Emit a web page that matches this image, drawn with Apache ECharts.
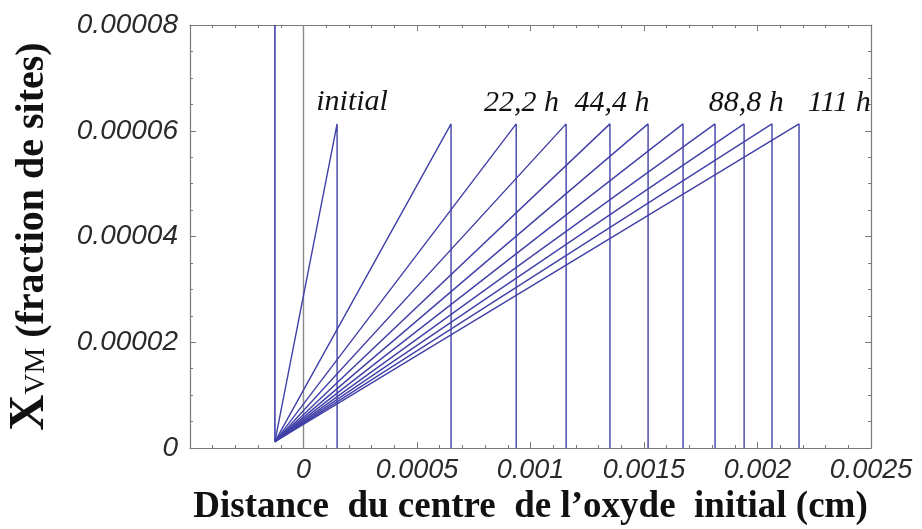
<!DOCTYPE html>
<html>
<head>
<meta charset="utf-8">
<script src="https://cdn.jsdelivr.net/npm/echarts@6/dist/echarts.min.js"></script>
<style>
html,body{margin:0;padding:0;background:#fff;}
#chart{width:922px;height:529px;}
</style>
</head>
<body>
<div id="chart"></div>
<script>
// ---- data ----
var curveNames = ['initial', '11,1 h', '22,2 h', '33,3 h', '44,4 h', '55,5 h', '66,6 h', '77,7 h', '88,8 h', '99,9 h', '111 h'];
var frontX = [0.000148, 0.000650, 0.000937, 0.001157, 0.001350, 0.001518, 0.001672, 0.001813, 0.001941, 0.002064, 0.002183];
var startX = -0.000126;
var startY = 0.0000012;
var peakY = 0.0000613;
var wallTopY = 0.00008;
var xTicks = [-0.0005, 0, 0.0005, 0.001, 0.0015, 0.002, 0.0025];
var xTickLabels = ['', '0', '0.0005', '0.001', '0.0015', '0.002', '0.0025'];
var yTicks = [0, 0.00002, 0.00004, 0.00006, 0.00008];
var yTickLabels = ['0', '0.00002', '0.00004', '0.00006', '0.00008'];
var annoText = ['initial', '22,2 h', '44,4 h', '88,8 h', '111 h'];
var annoX = [0.000214, 0.000960, 0.001359, 0.001950, 0.002360];
var annoY = [0.0000655, 0.0000652, 0.0000652, 0.0000652, 0.0000652];

var lineColor = '#4040a8';
var frameColor = '#7a7a7a';

function labelFor(ticks, labels) {
  return function (v) {
    for (var i = 0; i < ticks.length; i++) {
      if (Math.abs(v - ticks[i]) < 1e-12) return labels[i];
    }
    return '';
  };
}

var series = [];
for (var i = 0; i < frontX.length; i++) {
  series.push({
    name: curveNames[i],
    type: 'line',
    data: [[startX, startY], [frontX[i], peakY], [frontX[i], 0]],
    showSymbol: false,
    symbol: 'none',
    lineStyle: { color: lineColor, width: 1.4 },
    clip: true,
    silent: true,
    z: 3
  });
}
// vertical wall at the start position
series.push({
  name: 'wall',
  type: 'line',
  data: [[startX, wallTopY], [startX, startY]],
  symbol: 'none',
  lineStyle: { color: lineColor, width: 1.6 },
  clip: true,
  z: 3
});
// grey reference line at x = 0
series.push({
  name: 'zero',
  type: 'line',
  data: [[0, 0], [0, wallTopY]],
  symbol: 'none',
  lineStyle: { color: '#8a8a8a', width: 1.4 },
  clip: true,
  z: 2
});
// annotations (clipped by the plot area)
series.push({
  name: 'labels',
  type: 'custom',
  clip: true,
  data: annoText.map(function (t, k) { return [annoX[k], annoY[k], k]; }),
  renderItem: function (params, api) {
    var p = api.coord([api.value(0), api.value(1)]);
    return {
      type: 'text',
      x: p[0], y: p[1],
      style: {
        text: annoText[api.value(2)],
        font: 'italic 30px "Liberation Serif"',
        fill: '#111',
        align: 'center',
        verticalAlign: 'middle'
      }
    };
  },
  z: 4
});

var axisCommonX = {
  type: 'value', min: -0.0005, max: 0.0025, interval: 0.0005,
  axisLine: { show: true, onZero: false, lineStyle: { color: frameColor, width: 1.2 } },
  axisTick: { show: true, inside: true, length: 6, lineStyle: { color: frameColor } },
  minorTick: { show: true, splitNumber: 5, length: 3, lineStyle: { color: frameColor } },
  splitLine: { show: false }
};
var axisCommonY = {
  type: 'value', min: 0, max: 0.00008, interval: 0.00002,
  axisLine: { show: true, onZero: false, lineStyle: { color: frameColor, width: 1.2 } },
  axisTick: { show: true, inside: true, length: 6, lineStyle: { color: frameColor } },
  minorTick: { show: true, splitNumber: 4, length: 3, lineStyle: { color: frameColor } },
  splitLine: { show: false }
};

var option = {
  backgroundColor: '#ffffff',
  animation: false,
  grid: { left: 190, right: 51, top: 25, bottom: 81, containLabel: false, outerBoundsMode: 'none' },
  xAxis: [
    Object.assign({}, axisCommonX, {
      position: 'bottom',
      name: 'Distance  du centre  de l\u2019oxyde  initial (cm)',
      nameLocation: 'middle',
      nameGap: 37,
      nameTextStyle: { fontFamily: 'Liberation Serif', fontWeight: 'bold', fontSize: 37, color: '#111' },
      axisLabel: {
        show: true, margin: 9, color: '#2a2a2a',
        fontFamily: 'Liberation Sans', fontStyle: 'italic', fontSize: 27,
        formatter: labelFor(xTicks, xTickLabels)
      }
    }),
    Object.assign({}, axisCommonX, { position: 'top', axisLabel: { show: false } })
  ],
  yAxis: [
    Object.assign({}, axisCommonY, {
      position: 'left',
      name: '{x|X}{v|VM}{t| (fraction de sites)}',
      nameLocation: 'middle',
      nameRotate: 90,
      nameGap: 135,
      nameTextStyle: {
        color: '#111',
        rich: {
          x: { fontFamily: 'Liberation Serif', fontWeight: 'bold', fontSize: 50, color: '#111', verticalAlign: 'bottom' },
          v: { fontFamily: 'Liberation Serif', fontSize: 29, color: '#111', verticalAlign: 'bottom', padding: [0, 0, 4, 0] },
          t: { fontFamily: 'Liberation Serif', fontWeight: 'bold', fontSize: 40, color: '#111', verticalAlign: 'bottom', padding: [0, 0, 2, 0] }
        }
      },
      axisLabel: {
        show: true, margin: 12, color: '#2a2a2a',
        fontFamily: 'Liberation Sans', fontStyle: 'italic', fontSize: 28,
        formatter: labelFor(yTicks, yTickLabels)
      }
    }),
    Object.assign({}, axisCommonY, { position: 'right', axisLabel: { show: false } })
  ],
  series: series
};

var chart = echarts.init(document.getElementById('chart'), null, { renderer: 'canvas' });
chart.setOption(option);
</script>
</body>
</html>
